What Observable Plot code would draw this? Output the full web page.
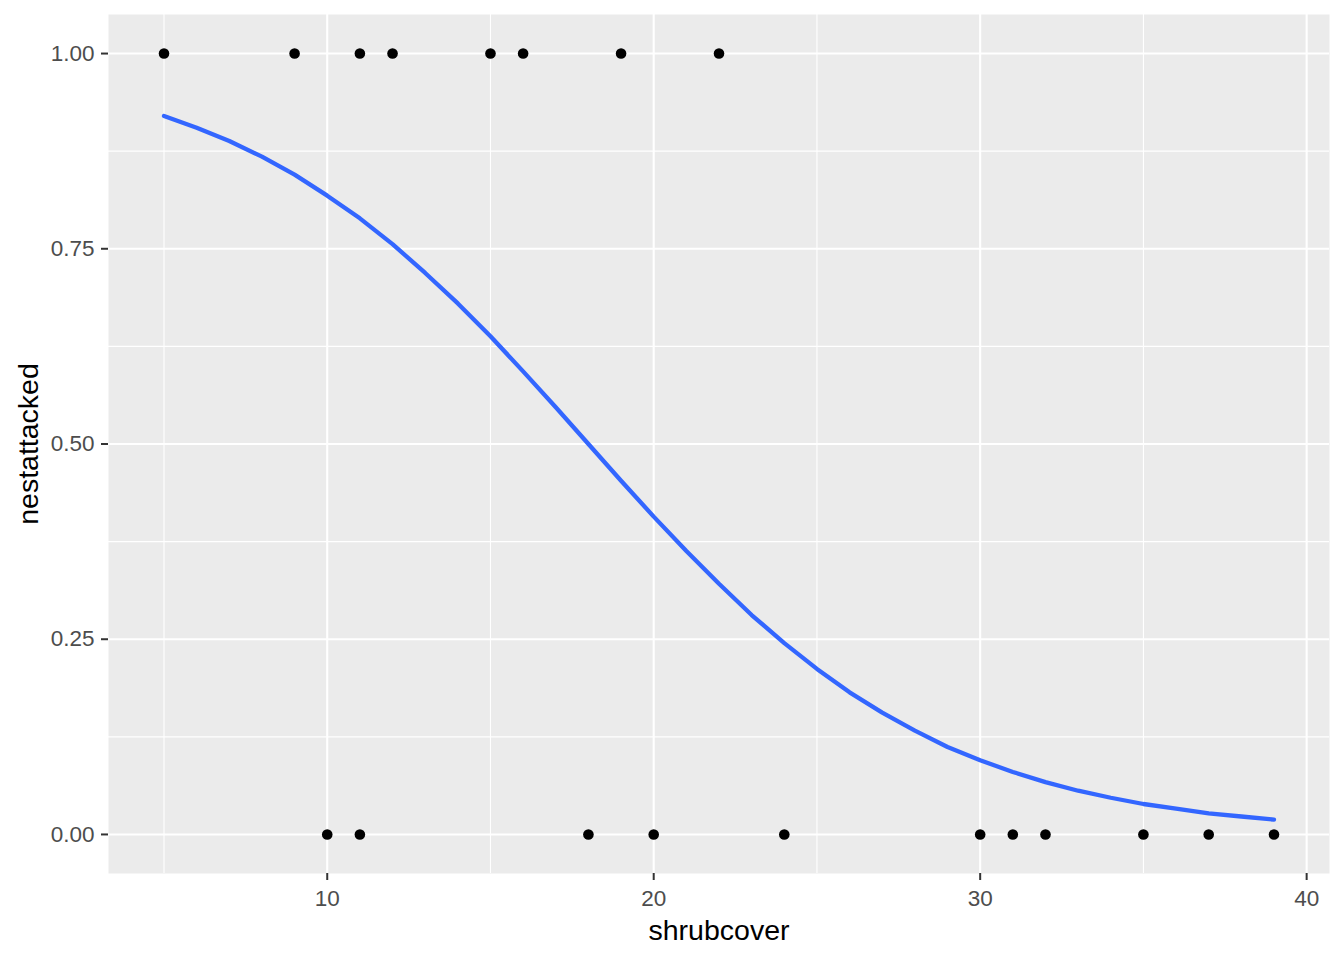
<!DOCTYPE html>
<html>
<head>
<meta charset="utf-8">
<script src="https://cdn.jsdelivr.net/npm/d3@7"></script>
<script src="https://cdn.jsdelivr.net/npm/@observablehq/plot@0.6"></script>
<style>
  html, body { margin: 0; padding: 0; background: white; }
</style>
</head>
<body>
<div id="chart"></div>
<script>
// Observed nests: shrub cover and whether the nest was attacked (1) or not (0)
const attackedCover = [5, 9, 11, 12, 15, 16, 19, 22];
const notAttackedCover = [10, 11, 18, 20, 24, 30, 31, 32, 35, 37, 39];

// Fitted logistic curve
const curveX = [5, 6, 7, 8, 9, 10, 11, 12, 13, 14, 15, 16, 17, 18, 19, 20, 21, 22,
                23, 24, 25, 26, 27, 28, 29, 30, 31, 32, 33, 34, 35, 36, 37, 38, 39];
const curveY = [0.920, 0.905, 0.888, 0.868, 0.845, 0.818, 0.789, 0.756, 0.719, 0.680,
                0.638, 0.593, 0.547, 0.500, 0.453, 0.407, 0.363, 0.321, 0.281, 0.245,
                0.212, 0.182, 0.156, 0.133, 0.112, 0.095, 0.080, 0.067, 0.056, 0.047,
                0.039, 0.033, 0.027, 0.023, 0.019];

// Axis ticks / grid
const xMajor = [10, 20, 30, 40];
const xMinor = [5, 15, 25, 35];
const yMajor = [0, 0.25, 0.5, 0.75, 1];
const yMinor = [0.125, 0.375, 0.625, 0.875];

const points = [
  ...attackedCover.map(x => ({shrubcover: x, nestattacked: 1})),
  ...notAttackedCover.map(x => ({shrubcover: x, nestattacked: 0}))
];
const curve = curveX.map((x, i) => ({shrubcover: x, p: curveY[i]}));

const chart = Plot.plot({
  width: 1344,
  height: 960,
  marginLeft: 108,
  marginRight: 15,
  marginTop: 14,
  marginBottom: 87,
  style: {fontFamily: "'Liberation Sans', Arial, sans-serif", background: "white"},
  x: {domain: [3.3, 40.7], axis: null},
  y: {domain: [-0.05, 1.05], axis: null},
  marks: [
    Plot.frame({fill: "#EBEBEB", stroke: "none"}),
    Plot.ruleX(xMinor, {stroke: "white", strokeWidth: 1.1}),
    Plot.ruleY(yMinor, {stroke: "white", strokeWidth: 1.1}),
    Plot.ruleX(xMajor, {stroke: "white", strokeWidth: 2.1}),
    Plot.ruleY(yMajor, {stroke: "white", strokeWidth: 2.1}),
    Plot.line(curve, {x: "shrubcover", y: "p", stroke: "#3366FF", strokeWidth: 4.3}),
    Plot.dot(points, {x: "shrubcover", y: "nestattacked", r: 5.3, fill: "black", stroke: "none"}),
    Plot.axisX({ticks: xMajor, tickFormat: d => String(d), tickSize: 7, tickPadding: 10,
                fontSize: 22.5, stroke: "#333333", fill: "#4D4D4D", strokeWidth: 2, label: null}),
    Plot.axisY({ticks: yMajor, tickFormat: d3.format(".2f"), tickSize: 7, tickPadding: 7,
                fontSize: 22.5, stroke: "#333333", fill: "#4D4D4D", strokeWidth: 2, label: null}),
    Plot.text(["shrubcover"], {frameAnchor: "bottom", dy: 57, lineAnchor: "middle",
                               fontSize: 28.5, fill: "black", text: d => d}),
    Plot.text(["nestattacked"], {frameAnchor: "left", dx: -80, rotate: -90, textAnchor: "middle",
                                 lineAnchor: "middle", fontSize: 28.5, fill: "black", text: d => d})
  ]
});
document.getElementById("chart").appendChild(chart);
</script>
</body>
</html>
